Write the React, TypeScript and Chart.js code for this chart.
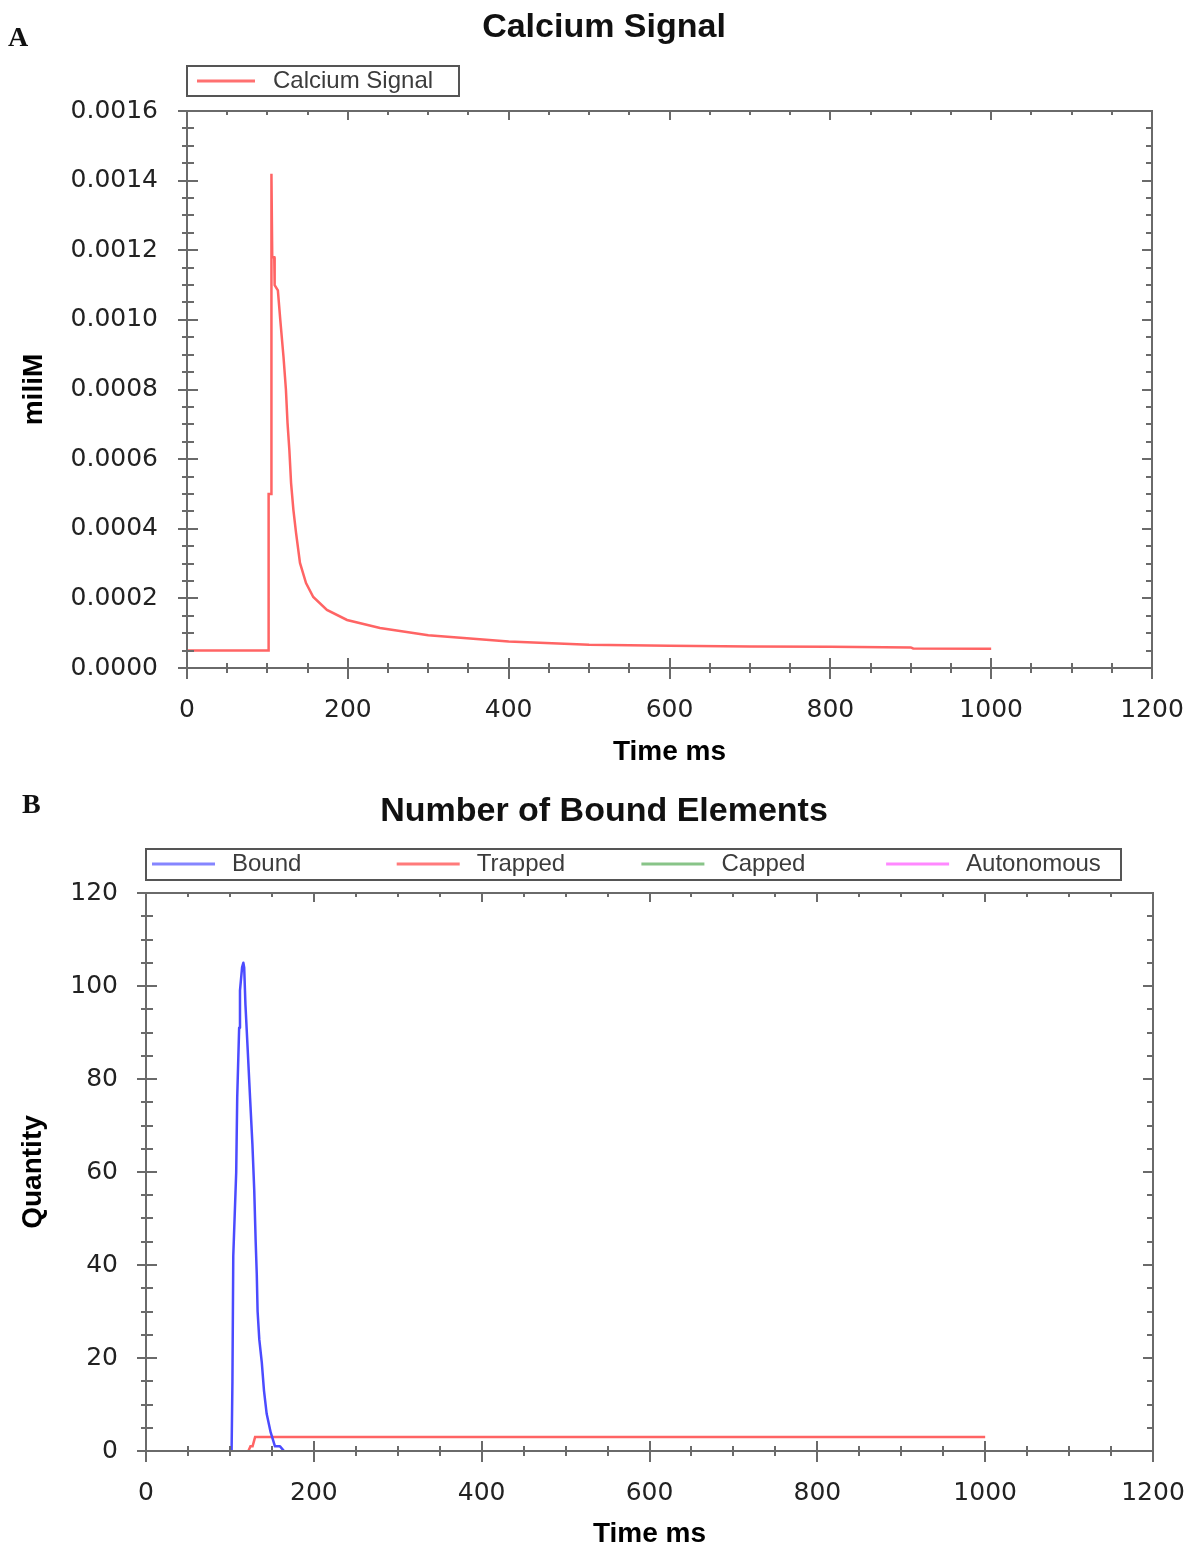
import React, { useEffect, useRef } from 'react';
import { Chart, registerables } from 'chart.js';

Chart.register(...registerables);

// ---------- DATA ----------
// Panel A: calcium signal (time in ms, concentration in miliM)
const CA_TIME = [0, 101, 101.5, 104.5, 105, 106, 108.5, 109, 113, 116, 120, 123, 125, 127.3, 129.4, 132.3, 135.6, 140.5, 148, 157, 174, 199, 240, 300, 400, 500, 600, 700, 800, 900, 903, 1000];
const CA_VALUE = [5e-5, 5e-5, 5.0e-4, 5.0e-4, 1.42e-3, 1.18e-3, 1.18e-3, 1.10e-3, 1.085e-3, 1.0e-3, 0.894e-3, 0.80e-3, 0.704e-3, 0.626e-3, 0.532e-3, 0.454e-3, 0.388e-3, 0.302e-3, 0.244e-3, 0.204e-3, 0.167e-3, 0.138e-3, 0.115e-3, 0.094e-3, 0.076e-3, 0.067e-3, 0.064e-3, 0.062e-3, 0.061e-3, 0.059e-3, 0.056e-3, 0.055e-3];

// Panel B: number of bound elements
const BOUND_TIME = [102, 103, 104, 107.5, 108.7, 111, 112, 114.5, 116, 117, 118.5, 121, 124, 126.8, 129, 130.7, 132, 133, 135, 138, 140.6, 143.8, 148.6, 153.7, 159.7, 164.5];
const BOUND_COUNT = [0, 15, 42, 60, 76, 91, 99, 104, 105, 104, 96, 87, 76, 66, 56, 45, 38, 30, 24, 19, 13, 8, 4, 1, 1, 0];
const TRAPPED_TIME = [122, 124.5, 127, 130, 1000];
const TRAPPED_COUNT = [0, 1, 1, 3, 3];
const CAPPED_TIME = [0, 1000];
const CAPPED_COUNT = [0, 0];
const AUTONOMOUS_TIME = [0, 1000];
const AUTONOMOUS_COUNT = [0, 0];

const LABELS_A = ['Calcium Signal'];
const LABELS_B = ['Bound', 'Trapped', 'Capped', 'Autonomous'];

// axis ranges / tick steps
const A_X = { min: 0, max: 1200, major: 200, minor: 50 };
const A_Y = { min: 0, max: 0.0016, major: 0.0002, minor: 0.00005 };
const B_X = { min: 0, max: 1200, major: 200, minor: 50 };
const B_Y = { min: 0, max: 120, major: 20, minor: 5 };

// ---------- STYLE ----------
const AXIS_COLOR = '#6a6a6a';
const TICK_FONT = { family: 'DejaVu Sans', size: 25 };
const AXIS_TITLE_FONT = { family: 'Liberation Sans', size: 28, weight: 'bold' as const };
const COLORS_A = ['#ff6464'];
const LEGEND_COLORS_A = ['#ff7070'];
const COLORS_B = ['#4b4bff', '#ff6464', '#6cb86c', '#ff70ff'];
const LEGEND_COLORS_B = ['#8585ff', '#ff7a7a', '#88c488', '#ff88ff'];

const pts = (xs: number[], ys: number[]) => xs.map((x, i) => ({ x, y: ys[i] }));

type Range = { min: number; max: number; major: number; minor: number };
type Deco = {
  letter: string; letterX: number; letterY: number;
  title: string; titleX: number; titleY: number;
  box: [number, number, number, number];
  itemX0: number; itemStep: number; lineLen: number; textGap: number; itemY: number;
  labels: string[]; legendColors: string[];
  xr: Range; yr: Range;
};

const isMult = (v: number, step: number) => {
  const r = v / step;
  return Math.abs(r - Math.round(r)) < 1e-6;
};

const makePlugin = (d: Deco) => ({
  id: 'deco',
  afterDatasetsDraw(chart: any) {
    const { ctx, chartArea } = chart;
    const { left, right, top, bottom } = chartArea;
    const xs = chart.scales.x;
    const ys = chart.scales.y;
    ctx.save();
    ctx.strokeStyle = AXIS_COLOR;
    ctx.lineWidth = 2;
    ctx.strokeRect(left, top, right - left, bottom - top);
    const seg = (x1: number, y1: number, x2: number, y2: number) => {
      ctx.beginPath(); ctx.moveTo(x1, y1); ctx.lineTo(x2, y2); ctx.stroke();
    };
    const nx = Math.round((d.xr.max - d.xr.min) / d.xr.minor);
    for (let i = 0; i <= nx; i++) {
      const v = d.xr.min + i * d.xr.minor;
      const px = Math.round(xs.getPixelForValue(v));
      const major = isMult(v, d.xr.major);
      seg(px, bottom - (major ? 10 : 5), px, bottom + (major ? 11 : 5));
      seg(px, top, px, top + (major ? 9 : 4));
    }
    const ny = Math.round((d.yr.max - d.yr.min) / d.yr.minor);
    for (let i = 0; i <= ny; i++) {
      const v = d.yr.min + i * d.yr.minor;
      const py = Math.round(ys.getPixelForValue(v));
      const major = isMult(i * d.yr.minor, d.yr.major);
      seg(left - (major ? 9 : 5), py, left + (major ? 11 : 7), py);
      seg(right - (major ? 10 : 6), py, right, py);
    }
    ctx.restore();
  },
  afterDraw(chart: any) {
    const { ctx } = chart;
    ctx.save();
    // panel letter
    ctx.fillStyle = '#111';
    ctx.font = 'bold 28px "Liberation Serif"';
    ctx.textAlign = 'left';
    ctx.textBaseline = 'alphabetic';
    ctx.fillText(d.letter, d.letterX, d.letterY);
    // title
    ctx.font = 'bold 34px "Liberation Sans"';
    ctx.textAlign = 'center';
    ctx.textBaseline = 'middle';
    ctx.fillStyle = '#111';
    ctx.fillText(d.title, d.titleX, d.titleY);
    // legend
    const [bx, by, bw, bh] = d.box;
    ctx.strokeStyle = '#555';
    ctx.lineWidth = 2;
    ctx.strokeRect(bx, by, bw, bh);
    ctx.font = '24px "Liberation Sans"';
    ctx.textAlign = 'left';
    ctx.textBaseline = 'middle';
    d.labels.forEach((lab, i) => {
      const x0 = d.itemX0 + i * d.itemStep;
      ctx.strokeStyle = d.legendColors[i];
      ctx.lineWidth = 3;
      ctx.beginPath(); ctx.moveTo(x0, d.itemY); ctx.lineTo(x0 + d.lineLen, d.itemY); ctx.stroke();
      ctx.fillStyle = '#3c3c3c';
      ctx.fillText(lab, x0 + d.lineLen + d.textGap, d.itemY);
    });
    ctx.restore();
  },
});

const scaleOpts = (r: Range, axis: 'x' | 'y', title: string, fit: number, fmt: (v: number) => string, tickPad: number, titlePad: any) => ({
  type: 'linear' as const,
  min: r.min,
  max: r.max,
  grid: { display: false, drawTicks: false },
  border: { display: false },
  ticks: {
    stepSize: r.major,
    font: TICK_FONT,
    color: '#222',
    padding: tickPad,
    maxRotation: 0,
    autoSkip: false,
    callback: (v: any) => fmt(Number(v)),
  },
  title: { display: true, text: title, font: AXIS_TITLE_FONT, color: '#000', padding: titlePad },
  afterFit: (s: any) => {
    if (axis === 'x') s.height = fit; else s.width = fit;
    s.paddingLeft = 0; s.paddingRight = 0; s.paddingTop = 0; s.paddingBottom = 0;
  },
});

export default function App() {
  const refA = useRef<HTMLCanvasElement>(null);
  const refB = useRef<HTMLCanvasElement>(null);

  useEffect(() => {
    document.body.style.margin = '0';
    document.documentElement.style.overflow = 'hidden';

    const decoA: Deco = {
      letter: 'A', letterX: 8, letterY: 46,
      title: 'Calcium Signal', titleX: 604, titleY: 28,
      box: [187, 66, 272, 30], itemX0: 197, itemStep: 0, lineLen: 58, textGap: 18, itemY: 81,
      labels: LABELS_A, legendColors: LEGEND_COLORS_A, xr: A_X, yr: A_Y,
    };
    const decoB: Deco = {
      letter: 'B', letterX: 22, letterY: 38,
      title: 'Number of Bound Elements', titleX: 604, titleY: 37,
      box: [146, 74, 975, 31], itemX0: 152, itemStep: 244.7, lineLen: 63, textGap: 17, itemY: 89,
      labels: LABELS_B, legendColors: LEGEND_COLORS_B, xr: B_X, yr: B_Y,
    };

    const a = new Chart(refA.current!, {
      type: 'line',
      data: {
        datasets: [
          { label: LABELS_A[0], data: pts(CA_TIME, CA_VALUE), borderColor: COLORS_A[0], borderWidth: 2.5, pointRadius: 0, tension: 0, fill: false },
        ],
      },
      options: {
        animation: false,
        responsive: false,
        layout: { padding: { left: 0, top: 111, right: 50, bottom: 0 } },
        plugins: { legend: { display: false }, title: { display: false }, tooltip: { enabled: false } },
        scales: {
          x: scaleOpts(A_X, 'x', 'Time ms', 107, (v) => String(v), 27, { top: 0, bottom: 6 }),
          y: scaleOpts(A_Y, 'y', 'miliM', 187, (v) => v.toFixed(4), 29, { top: 17, bottom: 0 }),
        },
      } as any,
      plugins: [makePlugin(decoA)],
    });

    const b = new Chart(refB.current!, {
      type: 'line',
      data: {
        datasets: [
          { label: LABELS_B[0], data: pts(BOUND_TIME, BOUND_COUNT), borderColor: COLORS_B[0], borderWidth: 2.5, borderJoinStyle: 'round', pointRadius: 0, tension: 0, fill: false },
          { label: LABELS_B[1], data: pts(TRAPPED_TIME, TRAPPED_COUNT), borderColor: COLORS_B[1], borderWidth: 2.5, pointRadius: 0, tension: 0, fill: false },
          { label: LABELS_B[2], data: pts(CAPPED_TIME, CAPPED_COUNT), borderColor: COLORS_B[2], borderWidth: 1.5, pointRadius: 0, tension: 0, fill: false },
          { label: LABELS_B[3], data: pts(AUTONOMOUS_TIME, AUTONOMOUS_COUNT), borderColor: COLORS_B[3], borderWidth: 1.5, pointRadius: 0, tension: 0, fill: false },
        ],
      },
      options: {
        animation: false,
        responsive: false,
        layout: { padding: { left: 0, top: 118, right: 49, bottom: 0 } },
        plugins: { legend: { display: false }, title: { display: false }, tooltip: { enabled: false } },
        scales: {
          x: scaleOpts(B_X, 'x', 'Time ms', 100, (v) => String(v), 27, { top: 0, bottom: 0 }),
          y: scaleOpts(B_Y, 'y', 'Quantity', 146, (v) => String(v), 28, { top: 16, bottom: 0 }),
        },
      } as any,
      plugins: [makePlugin(decoB)],
    });

    return () => { a.destroy(); b.destroy(); };
  }, []);

  return (
    <div style={{ position: 'absolute', left: 0, top: 0, width: 1202, height: 1551, background: '#fff' }}>
      <canvas ref={refA} width={1202} height={775} style={{ position: 'absolute', left: 0, top: 0, width: 1202, height: 775 }} />
      <canvas ref={refB} width={1202} height={776} style={{ position: 'absolute', left: 0, top: 775, width: 1202, height: 776 }} />
    </div>
  );
}
